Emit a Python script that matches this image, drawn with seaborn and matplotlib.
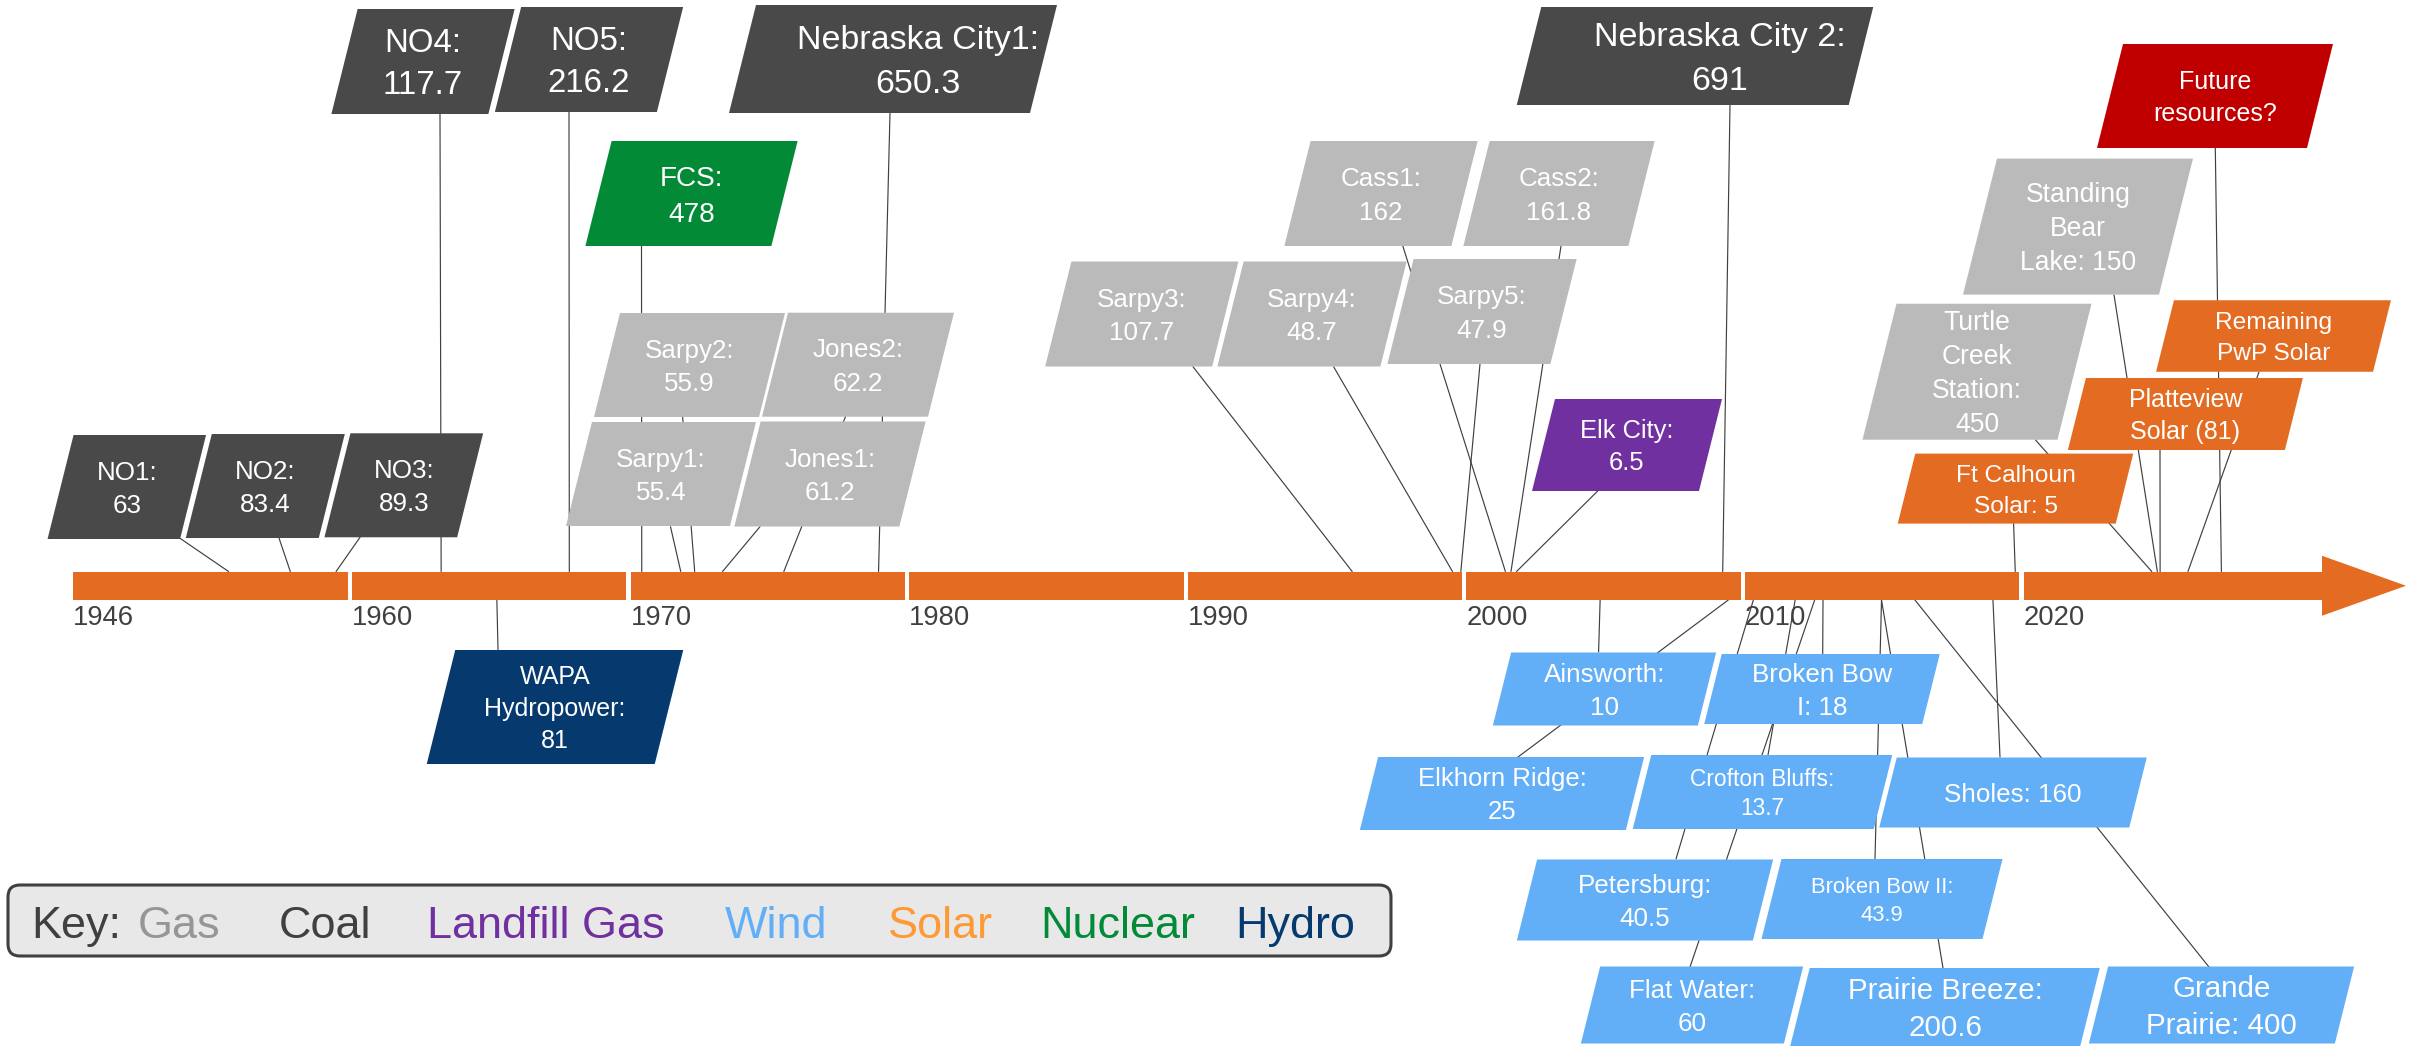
import numpy as np
import matplotlib
matplotlib.use("Agg")
import matplotlib.pyplot as plt
import seaborn as sns
from matplotlib.patches import Polygon, FancyBboxPatch, ConnectionPatch

# ---------------- data ----------------
labels = [
    "NO1:\n63", "NO2:\n83.4", "NO3:\n89.3", "NO4:\n117.7", "NO5:\n216.2",
    "FCS:\n478", "Sarpy1:\n55.4", "Sarpy2:\n55.9", "Jones1:\n61.2", "Jones2:\n62.2",
    "Nebraska City1:\n650.3", "Sarpy3:\n107.7", "Sarpy4:\n48.7", "Sarpy5:\n47.9",
    "Cass1:\n162", "Cass2:\n161.8", "Elk City:\n6.5", "Nebraska City 2:\n691",
    "Ft Calhoun\nSolar: 5", "Turtle\nCreek\nStation:\n450", "Standing\nBear\nLake: 150",
    "Platteview\nSolar (81)", "Remaining\nPwP Solar", "Future\nresources?",
    "WAPA\nHydropower:\n81", "Ainsworth:\n10", "Elkhorn Ridge:\n25", "Petersburg:\n40.5",
    "Crofton Bluffs:\n13.7", "Flat Water:\n60", "Broken Bow\nI: 18", "Broken Bow II:\n43.9",
    "Prairie Breeze:\n200.6", "Grande\nPrairie: 400", "Sholes: 160",
]
kinds = [
    "Coal", "Coal", "Coal", "Coal", "Coal",
    "Nuclear", "Gas", "Gas", "Gas", "Gas",
    "Coal", "Gas", "Gas", "Gas",
    "Gas", "Gas", "Landfill Gas", "Coal",
    "Solar", "Gas", "Gas",
    "Solar", "Solar", "Future",
    "Hydro", "Wind", "Wind", "Wind",
    "Wind", "Wind", "Wind", "Wind",
    "Wind", "Wind", "Wind",
]
years = [
    1953.8, 1956.9, 1959.2, 1963.2, 1967.8,
    1970.4, 1971.8, 1972.3, 1973.3, 1975.5,
    1978.9, 1995.9, 1999.5, 1999.8,
    2001.4, 2001.6, 2001.8, 2009.2,
    2019.7, 2024.6, 2024.8,
    2024.9, 2025.9, 2027.1,
    1965.2, 2004.8, 2009.4, 2010.3,
    2011.8, 2012.5, 2012.8, 2014.9,
    2014.9, 2016.1, 2018.9,
]
decades = [1946, 1960, 1970, 1980, 1990, 2000, 2010, 2020]
key_items = ["Gas", "Coal", "Landfill Gas", "Wind", "Solar", "Nuclear", "Hydro"]

# ---------------- layout (pixels of the 2420x1047 canvas) ----------------
box_cx = [126.8, 265.3, 403.8, 423, 589,
          691.5, 661, 689.5, 830, 858,
          893, 1141.8, 1312, 1482,
          1381, 1559, 1627, 1695,
          2015.5, 1977, 2078,
          2185.4, 2273.5, 2215,
          555, 1604.5, 1502, 1645,
          1762.5, 1692, 1822, 1882,
          1945, 2221.5, 2013]
box_cy = [487, 486, 485.3, 61.5, 59.5,
          193.5, 474, 365, 474, 364.7,
          59, 314, 314, 311.5,
          193.5, 193.5, 445, 56,
          488.6, 371.7, 226.6,
          414, 336, 96,
          707, 689, 793.5, 900,
          792, 1005, 689, 899,
          1007, 1005, 792.5]
box_w = [132.5, 133, 132.7, 157, 162,
         186, 164, 165, 165, 166,
         301, 167, 163, 163,
         167, 165, 167, 332,
         218, 195, 196,
         217, 217, 210,
         228, 205, 266, 236,
         241, 203, 218, 221,
         290, 246, 250]
box_h = [104, 104, 104, 105, 105,
         105, 104, 104, 105, 104,
         108, 105, 105, 105,
         105, 105, 92, 98,
         70, 136, 136,
         72, 71.5, 104,
         114, 73, 73, 81,
         74, 77, 70, 80,
         78, 77, 70]
font_px = [26, 26, 26, 33, 33,
           28, 26, 26, 26, 26,
           34, 26, 26, 26,
           26, 26, 25.5, 34,
           24.5, 26.5, 26.5,
           25, 24.5, 25,
           25, 26, 25.8, 26,
           22.7, 26, 26, 22,
           29.5, 29.5, 26]
text_dx = [0] * len(labels)
text_dx[10] = 25
text_dx[17] = 25
anchor_x = [180, 279, 360, 440, 569,
            641.5, 670.5, 682.6, 760, 845.5,
            890, 1193, 1333.6, 1480,
            1402.8, 1561, 1598, 1730,
            2013.6, 2035.4, 2114,
            2160, 2259, 2215.3,
            498, 1598.6, 1518, 1676,
            1768, 1690, 1822.7, 1875,
            1943, 2209, 2000]
anchor_y = [538.3, 538, 537.3, 114, 112,
            246, 526.7, 416.7, 526.7, 416.7,
            113, 366.7, 366.7, 364,
            246, 246, 490.7, 105,
            523.6, 439.8, 294.8,
            449.8, 372, 148,
            650, 652, 757, 859,
            755, 967, 654, 859,
            968, 967, 757]

colors = {
    "Coal": "#494949", "Gas": "#bababa", "Nuclear": "#038a37", "Landfill Gas": "#7030a0",
    "Hydro": "#063a6e", "Solar": "#e46c22", "Wind": "#62aef7", "Future": "#c00000",
}
key_colors = {
    "Gas": "#969696", "Coal": "#404040", "Landfill Gas": "#7030a0", "Wind": "#62aef7",
    "Solar": "#ff9933", "Nuclear": "#038a37", "Hydro": "#063a6e",
}
key_x = [138, 279, 427, 725, 888, 1040, 1235]
ORANGE = "#e46c22"
LINE_C = "#404040"
W, H = 2420, 1047
BAR_TOP, BAR_BOT = 571.5, 600.0
BAR_MID = (BAR_TOP + BAR_BOT) / 2
SEG_GAP = 4.3
ARROW_BASE, ARROW_TIP, ARROW_HALF = 2322, 2406, 30

# piecewise timeline scale: 1946-1960 squeezed into one decade width
PX0, PX1960, PX_PER_YR = 73.3, 352.0, 27.86
PRE = (PX1960 - PX0) / 14.0


def fwd(y):
    y = np.asarray(y, dtype=float)
    return np.where(y < 1960, PX0 + (y - 1946) * PRE, PX1960 + (y - 1960) * PX_PER_YR)


def inv(p):
    p = np.asarray(p, dtype=float)
    return np.where(p < PX1960, 1946 + (p - PX0) / PRE, 1960 + (p - PX1960) / PX_PER_YR)


PT = 72.0 / 100.0  # px -> pt at dpi 100

sns.set_theme(style="white")
plt.rcParams["font.family"] = ["Liberation Sans", "DejaVu Sans"]

fig = plt.figure(figsize=(W / 100, H / 100), dpi=100)
fig.patch.set_facecolor("white")

ax = fig.add_axes([0, 0, 1, 1])
ax.set_xscale("function", functions=(fwd, inv))
ax.set_xlim(float(inv(0)), float(inv(W)))
ax.set_ylim(H, 0)
ax.axis("off")

lay = fig.add_axes([0, 0, 1, 1], zorder=2)
lay.set_xlim(0, W)
lay.set_ylim(H, 0)
lay.axis("off")
lay.patch.set_alpha(0)

# timeline segments
for i, d in enumerate(decades):
    if i < len(decades) - 1:
        right = float(inv(fwd(decades[i + 1]) - SEG_GAP))
    else:
        right = float(inv(ARROW_BASE))
    ax.barh(BAR_MID, right - d, left=d, height=BAR_BOT - BAR_TOP, color=ORANGE,
            linewidth=0, zorder=3)
    ax.text(d, 625, str(d), ha="left", va="baseline", fontsize=27.5 * PT, color="#404040")

ax.add_patch(Polygon([(float(inv(ARROW_BASE)), BAR_MID - ARROW_HALF),
                      (float(inv(ARROW_TIP)), BAR_MID),
                      (float(inv(ARROW_BASE)), BAR_MID + ARROW_HALF)],
                     closed=True, facecolor=ORANGE, edgecolor="none", zorder=3))

# leader lines
for yr, axx, ayy in zip(years, anchor_x, anchor_y):
    edge = BAR_TOP if ayy < BAR_MID else BAR_BOT
    cp = ConnectionPatch(xyA=(yr, edge), coordsA=ax.transData,
                         xyB=(axx, ayy), coordsB=lay.transData,
                         color=LINE_C, lw=0.85, zorder=2)
    ax.add_artist(cp)

# parallelogram labels
for lab, kind, cx, cy, w, h, fs, dx in zip(labels, kinds, box_cx, box_cy, box_w, box_h,
                                           font_px, text_dx):
    s = 0.25 * h
    verts = [(cx - w / 2 - s / 2, cy + h / 2), (cx + w / 2 - s / 2, cy + h / 2),
             (cx + w / 2 + s / 2, cy - h / 2), (cx - w / 2 + s / 2, cy - h / 2)]
    lay.add_patch(Polygon(verts, closed=True, facecolor=colors[kind],
                          edgecolor="none", zorder=3))
    lines = lab.split("\n")
    n = len(lines)
    lh = 1.28 * fs
    for j, ln in enumerate(lines):
        yc = cy + (j - (n - 1) / 2) * lh
        lay.text(cx + dx, yc + 0.36 * fs, ln, ha="center", va="baseline",
                 fontsize=fs * PT, color="white", zorder=4)

# key
lay.add_patch(FancyBboxPatch((8, 885), 1383, 71,
                             boxstyle="round,pad=0,rounding_size=12",
                             facecolor="#e8e8e8", edgecolor="#404040", lw=2.2, zorder=3))
lay.text(31, 938, "Key:", ha="left", va="baseline", fontsize=45 * PT, color="#404040", zorder=4)
for item, kx in zip(key_items, key_x):
    lay.text(kx, 938, item, ha="left", va="baseline", fontsize=45 * PT,
             color=key_colors[item], zorder=4)

fig.savefig("out.png", dpi=100, facecolor="white")
